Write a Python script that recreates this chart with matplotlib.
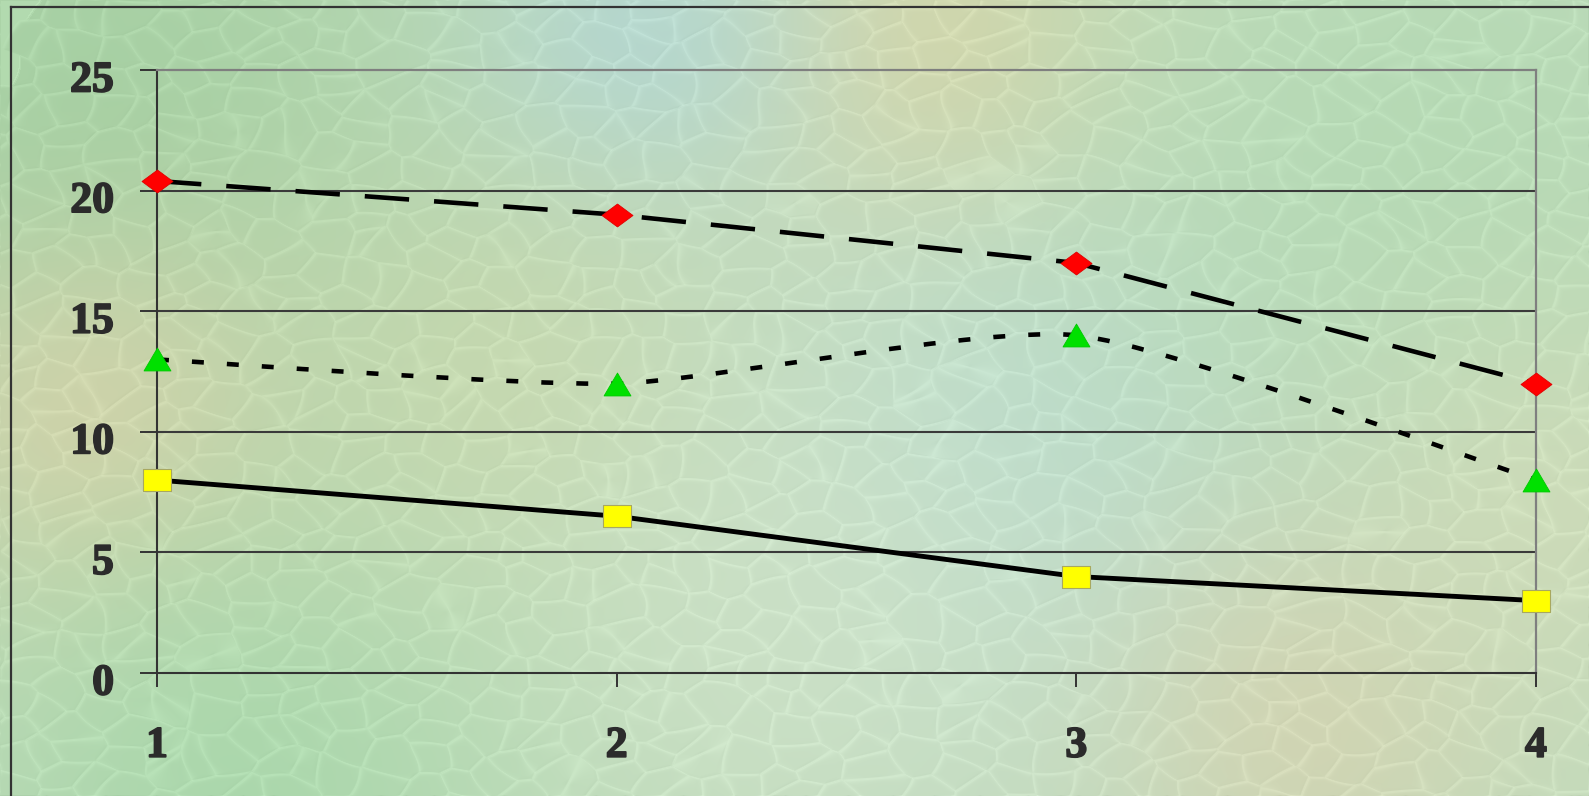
import numpy as np
import matplotlib
matplotlib.use("Agg")
import matplotlib.pyplot as plt
import matplotlib.patheffects as pe
from matplotlib.path import Path
from matplotlib.patches import PathPatch
from matplotlib.lines import Line2D
from matplotlib.transforms import ScaledTranslation

# ---- data ----
categories = [1, 2, 3, 4]
series_red = [20.4, 19.0, 17.0, 12.0]
series_green = [13.0, 12.0, 14.0, 8.0]
series_yellow = [8.0, 6.5, 4.0, 3.0]
y_ticks = [0, 5, 10, 15, 20, 25]

W, H, DPI = 1589, 796, 100
plt.rcParams["lines.scale_dashes"] = False


def textured_background(w, h):
    """Soft mottled green/beige field with an embossed cell texture."""
    yy, xx = np.mgrid[0:h, 0:w].astype(float)
    base = np.array([0.76, 0.86, 0.74])
    img = np.ones((h, w, 3)) * base
    blobs = [
        (80, 100, 300, (0.64, 0.81, 0.63), 0.9),
        (950, 60, 140, (0.86, 0.83, 0.64), 0.8),
        (640, 40, 120, (0.70, 0.84, 0.83), 0.8),
        (100, 440, 140, (0.86, 0.82, 0.66), 0.8),
        (250, 790, 220, (0.65, 0.84, 0.66), 0.8),
        (1050, 460, 200, (0.72, 0.86, 0.84), 0.7),
        (1420, 160, 260, (0.70, 0.85, 0.70), 0.8),
        (1300, 720, 150, (0.84, 0.82, 0.68), 0.7),
        (500, 380, 150, (0.79, 0.84, 0.66), 0.6),
        (800, 620, 200, (0.82, 0.89, 0.79), 0.6),
        (1560, 500, 150, (0.83, 0.86, 0.72), 0.6),
    ]
    for bx, by, s, c, a in blobs:
        wgt = a * np.exp(-((xx - bx) ** 2 + (yy - by) ** 2) / (2 * s * s))
        img += wgt[..., None] * (np.array(c) - img)

    # cellular (Voronoi) texture on a jittered grid
    rng = np.random.default_rng(11)
    cell = 34
    u = xx * 0.85 + yy * 0.35
    v = yy * 1.15 - xx * 0.25 + 600
    # gentle waviness so the cell walls are not perfectly straight
    u = u + 4 * np.sin(v / 23.0) + 3 * np.sin((u + v) / 17.0)
    v = v + 4 * np.sin(u / 19.0) + 3 * np.cos((u - v) / 29.0)
    gx = int(u.max() // cell) + 4
    gy = int(v.max() // cell) + 4
    sx = (np.arange(gx)[None, :] + rng.random((gy, gx))) * cell
    sy = (np.arange(gy)[:, None] + rng.random((gy, gx))) * cell
    ci = (u // cell).astype(int)
    cj = (v // cell).astype(int)
    f1 = np.full((h, w), 1e9)
    f2 = np.full((h, w), 1e9)
    for dj in (-1, 0, 1):
        for di in (-1, 0, 1):
            jj = np.clip(cj + dj, 0, gy - 1)
            ii = np.clip(ci + di, 0, gx - 1)
            d = np.hypot(u - sx[jj, ii], v - sy[jj, ii])
            nf2 = np.where(d < f1, f1, np.minimum(f2, d))
            f1 = np.minimum(f1, d)
            f2 = nf2
    ridge = np.exp(-(f2 - f1) / 3.0)
    shade = np.roll(ridge, (1, 1), axis=(0, 1)) - np.roll(ridge, (-1, -1), axis=(0, 1))
    img += 0.04 * ridge[..., None] + 0.03 * shade[..., None]
    return np.clip(img, 0, 1)


fig = plt.figure(figsize=(W / DPI, H / DPI), dpi=DPI)
fig.figimage(textured_background(W, H), xo=0, yo=0, origin="upper", zorder=-10)

# outer frame (top and left edges)
frame_kw = dict(color="#333333", lw=1.6, transform=fig.transFigure)
fig.add_artist(Line2D([11 / W, 1.0], [1 - 7 / H, 1 - 7 / H], **frame_kw))
fig.add_artist(Line2D([11 / W, 11 / W], [0, 1 - 7 / H], **frame_kw))

left, right = 157 / W, 1536 / W
bottom, top = (H - 673) / H, (H - 70) / H
ax = fig.add_axes([left, bottom, right - left, top - bottom])
ax.set_zorder(2)
ax.set_facecolor("none")
ax.set_xlim(categories[0], categories[-1])
ax.set_ylim(y_ticks[0], y_ticks[-1])

# horizontal gridlines
for t in y_ticks[1:-1]:
    ax.axhline(t, color="#3a3a3a", lw=1.5, zorder=1)

for side in ("top", "right"):
    ax.spines[side].set_color("#7f7f7f")
    ax.spines[side].set_linewidth(1.6)
for side in ("left", "bottom"):
    ax.spines[side].set_color("#333333")
    ax.spines[side].set_linewidth(1.5)

ax.set_xticks(categories)
ax.set_yticks(y_ticks)
font = dict(family="Liberation Serif", weight="bold", size=31.5)
ax.set_xticklabels([str(c) for c in categories], fontdict=font, color="#2b2b2b")
ax.set_yticklabels([str(t) for t in y_ticks], fontdict=font, color="#2b2b2b")
ax.tick_params(axis="y", direction="out", length=12, width=1.4, color="#333333", pad=19)
ax.tick_params(axis="x", direction="out", length=10, width=1.4, color="#333333", pad=28)

heavy = [pe.withStroke(linewidth=1.3, foreground="#2b2b2b")]
down = ScaledTranslation(0, -6 / DPI, fig.dpi_scale_trans)
for tick in ax.yaxis.get_major_ticks():
    tick.label1.set_transform(tick.label1.get_transform() + down)
    tick.label1.set_path_effects(heavy)
for tick in ax.xaxis.get_major_ticks():
    tick.label1.set_path_effects(heavy)

# marker shapes (wider than tall)
diamond = Path([(-1, 0), (0, 0.74), (1, 0), (0, -0.74), (-1, 0)],
               [Path.MOVETO, Path.LINETO, Path.LINETO, Path.LINETO, Path.CLOSEPOLY])
rect = Path([(-1, -0.75), (1, -0.75), (1, 0.75), (-1, 0.75), (-1, -0.75)],
            [Path.MOVETO, Path.LINETO, Path.LINETO, Path.LINETO, Path.CLOSEPOLY])
tri = Path([(0, 0.85), (-1, -0.85), (1, -0.85), (0, 0.85)],
           [Path.MOVETO, Path.LINETO, Path.LINETO, Path.CLOSEPOLY])

# red dashed series
ax.plot(categories, series_red, color="black", lw=3.3, dashes=(32, 18),
        dash_capstyle="butt", zorder=3, clip_on=False)
ax.plot(categories, series_red, ls="none", marker=diamond, ms=22.3,
        mfc="#ff0000", mec="#e00000", mew=0.6, zorder=5, clip_on=False)


def smooth_path(xs, ys, tension=0.1):
    """Cubic Bezier curve through the points, tangents from neighbouring points."""
    pts = np.column_stack([xs, ys]).astype(float)
    n = len(pts)
    verts = [pts[0]]
    codes = [Path.MOVETO]
    for i in range(n - 1):
        p_prev = pts[max(i - 1, 0)]
        p0, p1 = pts[i], pts[i + 1]
        p_next = pts[min(i + 2, n - 1)]
        verts += [p0 + (p1 - p_prev) * tension, p1 - (p_next - p0) * tension, p1]
        codes += [Path.CURVE4] * 3
    return Path(verts, codes)


# green dotted smoothed series
green_curve = PathPatch(smooth_path(categories, series_green), fill=False,
                        edgecolor="black", lw=3.3, linestyle=(0, (8.6, 16.6)),
                        capstyle="butt", transform=ax.transData, zorder=3,
                        clip_on=False)
ax.add_patch(green_curve)
ax.plot(categories, series_green, ls="none", marker=tri, ms=19.4,
        mfc="#00e000", mec="#00c800", mew=0.6, zorder=5, clip_on=False)

# yellow solid series
ax.plot(categories, series_yellow, color="black", lw=3.5, zorder=3,
        solid_capstyle="butt", clip_on=False)
ax.plot(categories, series_yellow, ls="none", marker=rect, ms=20.2,
        mfc="#ffff00", mec="#a8a860", mew=0.8, zorder=5, clip_on=False)

fig.savefig("out.png", dpi=DPI)
